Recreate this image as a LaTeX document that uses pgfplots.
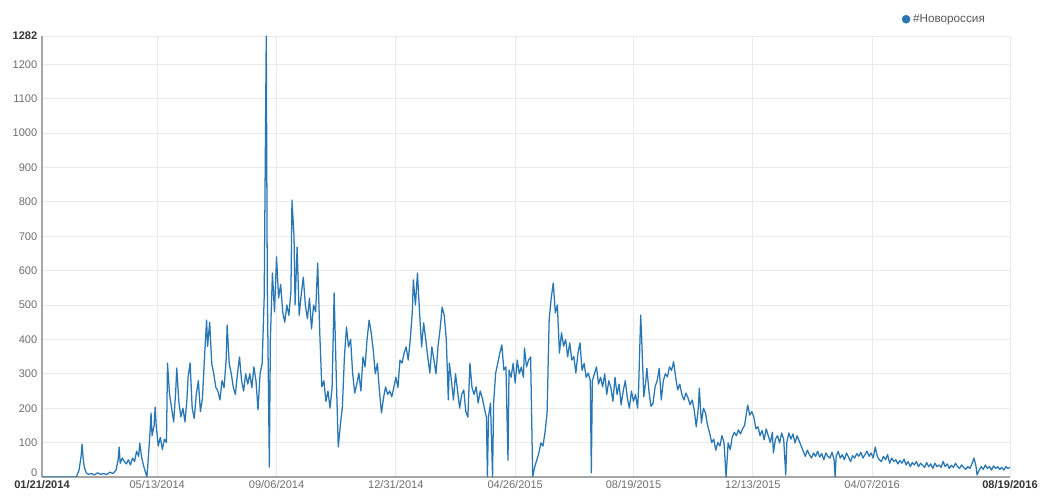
\documentclass[border=0pt]{standalone}
\usepackage{pgfplots}
\pgfplotsset{compat=1.18}
\usepackage{fontspec}
\setmainfont{Liberation Sans}
\definecolor{seriesblue}{RGB}{40,118,180}
\definecolor{ticktext}{RGB}{110,110,110}
\definecolor{gridgray}{RGB}{234,234,234}

% daily counts, x = days since 01/21/2014
\pgfplotstableread{
day val
0 0
33 0
34 5
36 20
38 60
39 95
40 55
41 30
43 12
45 8
48 10
51 6
54 12
57 8
60 10
63 7
66 14
69 10
72 20
74 50
75 87
76 40
78 55
80 45
82 38
84 50
86 35
88 55
90 45
92 75
94 60
95 99
97 55
99 30
101 10
102 0
103 40
105 130
106 186
107 120
109 150
110 203
111 150
113 90
115 115
117 80
119 110
121 100
122 331
124 240
126 200
128 160
130 250
131 317
133 220
135 175
137 200
139 160
141 230
142 290
144 331
146 200
148 170
150 240
152 280
154 190
156 230
158 350
160 456
161 380
163 450
165 330
167 300
169 260
171 250
173 224
175 280
177 260
179 340
180 442
182 330
184 300
186 260
188 240
190 300
192 349
194 280
196 250
198 300
200 270
202 300
204 260
206 320
208 280
210 195
212 300
214 330
216 523
218 1282
219 560
221 29
222 400
224 593
226 480
228 640
230 520
232 560
234 480
236 450
238 500
240 470
242 540
243 805
245 700
246 500
248 668
250 470
252 530
254 581
256 500
258 460
260 520
262 430
264 500
266 480
268 622
270 420
272 262
274 280
276 220
278 250
280 200
282 260
284 535
286 300
288 87
290 150
292 203
294 350
296 436
298 378
300 400
302 300
304 244
306 270
308 302
310 250
312 349
314 320
316 400
318 456
320 420
322 369
324 300
326 330
328 250
330 186
332 230
334 262
336 240
338 250
340 233
342 260
344 290
346 260
348 340
350 331
352 360
354 378
356 340
358 400
360 480
361 573
363 500
365 593
367 480
369 378
371 448
373 400
375 350
377 302
379 378
381 340
383 300
385 380
387 430
389 494
391 470
393 400
395 224
396 331
398 280
400 224
402 300
404 250
406 200
408 240
410 253
412 190
414 174
416 331
418 260
420 240
422 262
424 215
426 250
428 230
430 200
432 174
433 0
434 174
436 215
438 0
439 215
441 302
443 330
445 360
447 384
449 311
451 320
453 49
454 311
456 290
458 330
460 273
462 340
464 300
466 320
468 290
469 375
471 320
473 340
475 349
477 0
479 30
481 49
483 70
485 99
487 90
489 130
491 186
493 456
495 520
497 564
499 477
501 500
503 360
505 419
507 380
509 400
511 349
513 390
515 340
517 350
519 302
521 360
523 390
525 310
527 330
529 290
531 302
533 280
534 12
535 280
537 300
539 320
541 270
543 290
545 262
547 300
549 240
551 280
553 260
555 220
557 290
559 240
561 270
563 210
565 250
567 280
569 230
571 200
573 250
575 220
577 240
579 200
580 260
582 471
583 400
585 233
587 280
588 316
590 250
592 205
594 215
596 262
598 280
600 316
602 224
604 280
606 300
608 291
610 320
612 310
614 335
616 290
618 253
620 270
622 240
624 224
626 244
628 230
630 210
632 224
634 195
636 146
638 200
639 258
641 157
643 200
645 186
647 150
649 128
651 100
653 110
655 78
657 100
659 90
661 120
663 100
665 0
667 99
669 80
671 116
673 130
675 120
677 137
679 125
681 140
683 150
686 209
688 180
690 190
692 174
694 140
696 146
698 120
700 135
702 108
704 140
706 120
708 100
710 130
711 70
713 110
715 120
717 99
719 128
721 110
723 6
724 100
726 128
728 110
730 125
732 99
734 120
736 105
738 90
740 75
742 60
744 78
746 65
748 55
750 70
752 60
754 75
756 58
758 68
760 50
762 70
764 60
766 55
768 72
770 50
771 0
772 60
774 75
776 55
778 65
780 50
782 70
784 58
786 45
788 62
790 55
792 68
794 60
796 72
798 55
800 65
802 75
804 60
806 70
808 55
810 87
812 60
814 50
816 45
818 60
820 50
822 65
824 40
826 55
828 45
830 50
832 38
834 48
836 40
838 52
840 35
842 45
844 30
846 42
848 35
850 45
852 30
854 40
856 34
858 28
860 42
862 30
864 38
866 25
868 40
870 30
872 35
874 28
876 45
878 30
880 38
882 25
884 34
886 28
888 40
890 30
892 25
894 35
896 28
898 22
900 30
902 25
904 38
906 55
908 30
909 6
911 20
913 30
915 22
917 35
919 25
921 30
923 20
925 32
927 25
929 30
931 22
933 28
935 20
937 30
939 25
941 28
}\tweets

\begin{document}
\begin{tikzpicture}
\begin{axis}[
    at={(0pt,0pt)}, anchor=south west,
    scale only axis,
    width=726pt, height=330.75pt,
    xmin=0, xmax=941, ymin=0, ymax=1282,
    axis lines*=left,
    axis line style={draw=black!35, line width=0.9pt, -},
    xtick={0,112,228,344,460,575,691,807,941},
    xticklabels={\textbf{\color{black!80}01/21/2014},05/13/2014,09/06/2014,12/31/2014,04/26/2015,08/19/2015,12/13/2015,04/07/2016,\textbf{\color{black!80}08/19/2016}},
    xticklabel style={yshift=1pt},
    ytick={0,100,200,300,400,500,600,700,800,900,1000,1100,1200,1282},
    yticklabels={\raisebox{7pt}{0},100,200,300,400,500,600,700,800,900,1000,1100,1200,\textbf{\color{black!80}1282}},
    grid=major,
    major grid style={draw=gridgray, line width=0.6pt},
    major tick length=0pt,
    tick label style={font=\fontsize{8.3}{10}\selectfont, text=ticktext},
    legend style={at={(0.888,1.038)}, anchor=west, draw=none, fill=none,
        inner sep=0pt, font=\fontsize{8.8}{10}\selectfont, text=black!65},
    legend cell align=left,
]
\addplot[seriesblue, line width=0.95pt, line join=round, forget plot] table[x=day, y=val] {\tweets};
\addlegendimage{legend image code/.code={\fill[seriesblue] (3pt,0pt) circle (3pt);}}
\addlegendentry{\#Новороссия}
\end{axis}
\pgfresetboundingbox
\path (-31.5pt,-15.75pt) rectangle (750pt,357.75pt);
\end{tikzpicture}
\end{document}
